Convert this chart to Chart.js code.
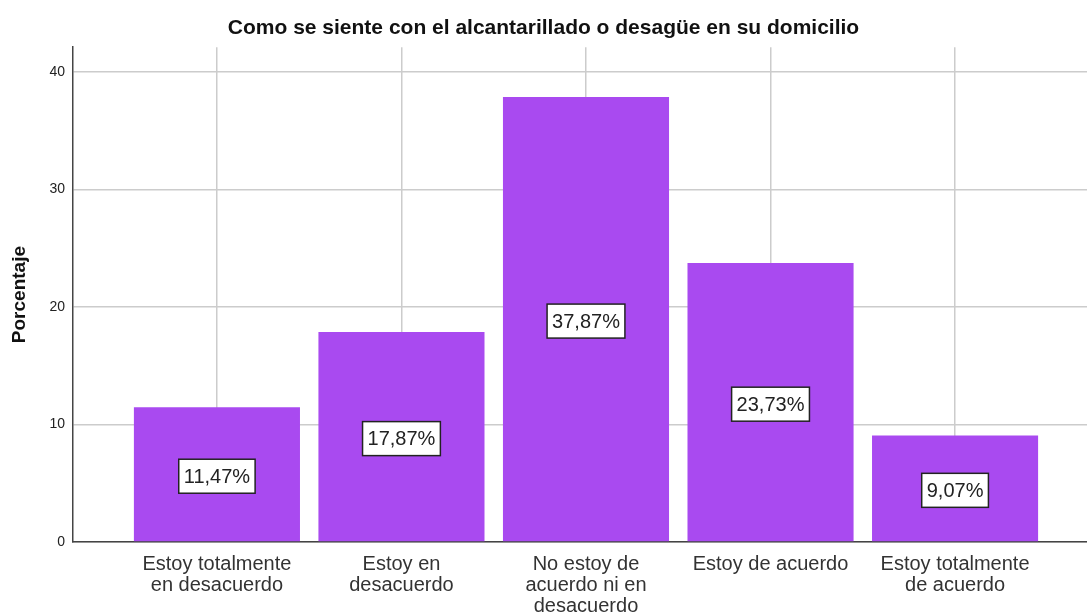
<!DOCTYPE html>
<html>
<head>
<meta charset="utf-8">
<script src="https://cdn.jsdelivr.net/npm/chart.js@4/dist/chart.umd.min.js"></script>
<style>
  html, body { margin: 0; padding: 0; background: #fff; }
  #wrap { width: 1087px; height: 615px; }
</style>
</head>
<body>
<div id="wrap"><canvas id="barChart"></canvas></div>
<script>
var categories = [
	["Estoy totalmente", "en desacuerdo"],
	["Estoy en", "desacuerdo"],
	["No estoy de", "acuerdo ni en", "desacuerdo"],
	["Estoy de acuerdo"],
	["Estoy totalmente", "de acuerdo"]
];
var porcentajes = [11.47, 17.87, 37.87, 23.73, 9.07];
var yTicks = [0, 10, 20, 30, 40];

// white boxes with the value in the middle of each bar
var boxLabels = {
	id: 'boxLabels',
	afterDatasetsDraw: function(chart) {
		var ctx = chart.ctx;
		var meta = chart.getDatasetMeta(0);
		ctx.save();
		ctx.font = '20px "Liberation Sans", Arial, sans-serif';
		ctx.textAlign = 'center';
		ctx.textBaseline = 'middle';
		meta.data.forEach(function(bar, i) {
			var txt = porcentajes[i].toFixed(2).replace('.', ',') + '%';
			var w = ctx.measureText(txt).width + 10;
			var h = 34;
			var cy = (bar.y + bar.base) / 2 + 2;
			ctx.fillStyle = '#ffffff';
			ctx.fillRect(bar.x - w / 2, cy - h / 2, w, h);
			ctx.strokeStyle = '#222222';
			ctx.lineWidth = 1.5;
			ctx.strokeRect(bar.x - w / 2, cy - h / 2, w, h);
			ctx.fillStyle = '#222222';
			ctx.fillText(txt, bar.x, cy + 1);
		});
		ctx.restore();
	}
};

var points = porcentajes.map(function(v, i) { return { x: i, y: v }; });

var ctx = document.getElementById("barChart").getContext("2d");
var chart = new Chart(ctx, {
	type: 'bar',
	data: {
		datasets: [{
			label: 'Porcentaje',
			data: points,
			backgroundColor: '#A94AF0',
			borderWidth: 0,
			categoryPercentage: 1.0,
			barPercentage: 0.9
		}]
	},
	options: {
		responsive: true,
		maintainAspectRatio: false,
		animation: false,
		layout: { padding: 0 },
		plugins: {
			legend: { display: false },
			tooltip: { enabled: false },
			title: {
				display: true,
				text: 'Como se siente con el alcantarillado o desagüe en su domicilio',
				color: '#111',
				font: { family: '"Liberation Sans", Arial, sans-serif', size: 21, weight: 'bold', lineHeight: 1.2 },
				padding: { top: 16, bottom: 6 }
			}
		},
		scales: {
			x: {
				type: 'linear',
				min: -0.78,
				max: 4.715,
				offset: false,
				grid: { display: true, offset: false, color: '#cccccc', lineWidth: 1.5, drawTicks: false },
				border: { color: '#444444', width: 1.5 },
				afterBuildTicks: function(scale) {
					scale.ticks = categories.map(function(c, i) { return { value: i }; });
				},
				ticks: {
					color: '#333',
					padding: 12,
					maxRotation: 0,
					autoSkip: false,
					font: { family: '"Liberation Sans", Arial, sans-serif', size: 20, lineHeight: 1.05 },
					callback: function(value) { return categories[value]; }
				},
				afterFit: function(scale) { scale.height = 73; }
			},
			y: {
				min: 0,
				max: 42.1,
				grid: { color: '#cccccc', lineWidth: 1.5, drawTicks: false },
				border: { color: '#444444', width: 1.5 },
				afterBuildTicks: function(scale) {
					scale.ticks = yTicks.map(function(v) { return { value: v }; });
				},
				ticks: {
					color: '#222',
					padding: 8,
					font: { family: '"Liberation Sans", Arial, sans-serif', size: 14 }
				},
				title: {
					display: true,
					text: 'Porcentaje',
					color: '#111',
					font: { family: '"Liberation Sans", Arial, sans-serif', size: 19, weight: 'bold' },
					padding: { top: 8, bottom: 4 }
				},
				afterFit: function(scale) { scale.width = 73; }
			}
		}
	},
	plugins: [boxLabels]
});
</script>
</body>
</html>
